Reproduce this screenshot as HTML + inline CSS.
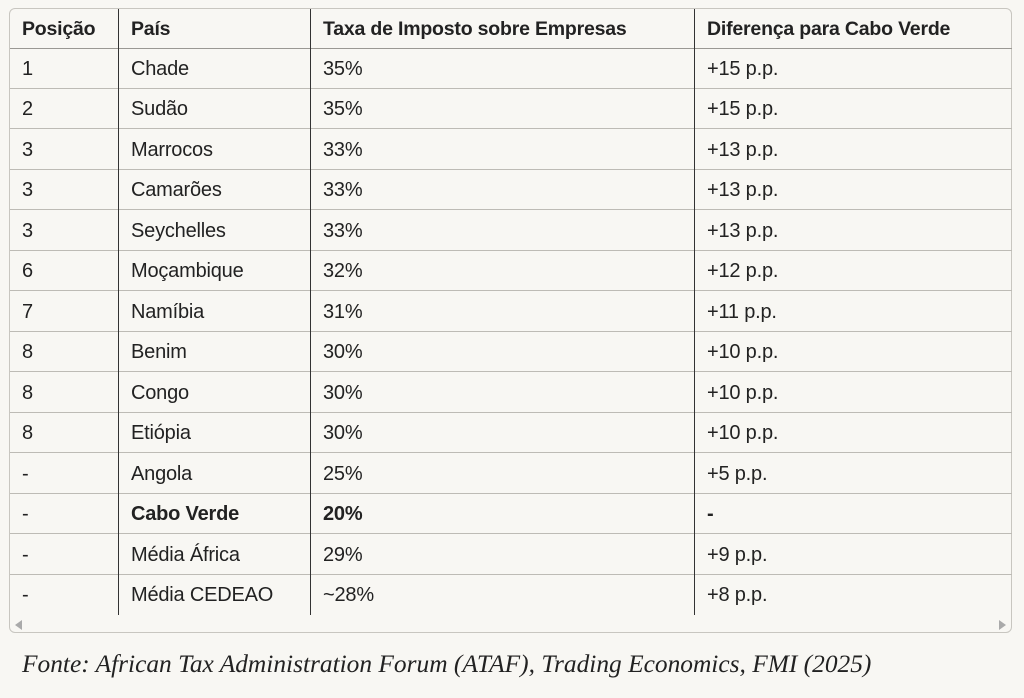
<!DOCTYPE html>
<html><head><meta charset="utf-8"><style>
body{margin:0;background:#f8f7f3;width:1024px;height:698px;position:relative;font-family:"Liberation Sans",sans-serif;color:#222;overflow:hidden}
.box{position:absolute;left:9px;top:8px;width:1003px;height:625px;border:1px solid #c8c6c0;border-radius:6px;box-sizing:border-box;background:#f8f7f3}
.row{position:absolute;left:10px;width:1002px;height:40px;border-bottom:1px solid #bdbbb5;box-sizing:border-box;font-size:20px;line-height:40px;letter-spacing:-0.2px}
.row span{position:absolute;top:0}
.c1{left:12px}.c2{left:121px}.c3{left:313px}.c4{left:697px}
.h{font-weight:bold;font-size:19.5px;border-bottom:1px solid #9a9893}
.v{position:absolute;top:9px;height:606px;width:1px;background:#333}
.cap{position:absolute;left:22px;top:650px;font-family:"Liberation Serif",serif;font-style:italic;font-size:25.4px;color:#222;white-space:nowrap}
</style></head><body>
<div class="box"></div>
<div class="row h" style="top:9px;height:40px"><span class="c1">Posição</span><span class="c2">País</span><span class="c3">Taxa de Imposto sobre Empresas</span><span class="c4">Diferença para Cabo Verde</span></div>
<div class="row" style="top:49px"><span class="c1">1</span><span class="c2">Chade</span><span class="c3">35%</span><span class="c4">+15 p.p.</span></div>
<div class="row" style="top:89px"><span class="c1">2</span><span class="c2">Sudão</span><span class="c3">35%</span><span class="c4">+15 p.p.</span></div>
<div class="row" style="top:130px"><span class="c1">3</span><span class="c2">Marrocos</span><span class="c3">33%</span><span class="c4">+13 p.p.</span></div>
<div class="row" style="top:170px"><span class="c1">3</span><span class="c2">Camarões</span><span class="c3">33%</span><span class="c4">+13 p.p.</span></div>
<div class="row" style="top:211px"><span class="c1">3</span><span class="c2">Seychelles</span><span class="c3">33%</span><span class="c4">+13 p.p.</span></div>
<div class="row" style="top:251px"><span class="c1">6</span><span class="c2">Moçambique</span><span class="c3">32%</span><span class="c4">+12 p.p.</span></div>
<div class="row" style="top:292px"><span class="c1">7</span><span class="c2">Namíbia</span><span class="c3">31%</span><span class="c4">+11 p.p.</span></div>
<div class="row" style="top:332px"><span class="c1">8</span><span class="c2">Benim</span><span class="c3">30%</span><span class="c4">+10 p.p.</span></div>
<div class="row" style="top:373px"><span class="c1">8</span><span class="c2">Congo</span><span class="c3">30%</span><span class="c4">+10 p.p.</span></div>
<div class="row" style="top:413px"><span class="c1">8</span><span class="c2">Etiópia</span><span class="c3">30%</span><span class="c4">+10 p.p.</span></div>
<div class="row" style="top:454px"><span class="c1">-</span><span class="c2">Angola</span><span class="c3">25%</span><span class="c4">+5 p.p.</span></div>
<div class="row" style="top:494px;font-weight:bold"><span class="c1" style="font-weight:normal">-</span><span class="c2">Cabo Verde</span><span class="c3">20%</span><span class="c4">-</span></div>
<div class="row" style="top:535px"><span class="c1">-</span><span class="c2">Média África</span><span class="c3">29%</span><span class="c4">+9 p.p.</span></div>
<div class="row" style="top:575px;border-bottom:none"><span class="c1">-</span><span class="c2">Média CEDEAO</span><span class="c3">~28%</span><span class="c4">+8 p.p.</span></div>
<div class="v" style="left:118px"></div>
<div class="v" style="left:310px"></div>
<div class="v" style="left:694px"></div>
<div style="position:absolute;left:15px;top:620px;width:0;height:0;border-top:5px solid transparent;border-bottom:5px solid transparent;border-right:7px solid #aaa"></div>
<div style="position:absolute;left:999px;top:620px;width:0;height:0;border-top:5px solid transparent;border-bottom:5px solid transparent;border-left:7px solid #aaa"></div>
<div class="cap">Fonte: African Tax Administration Forum (ATAF), Trading Economics, FMI (2025)</div>
</body></html>
